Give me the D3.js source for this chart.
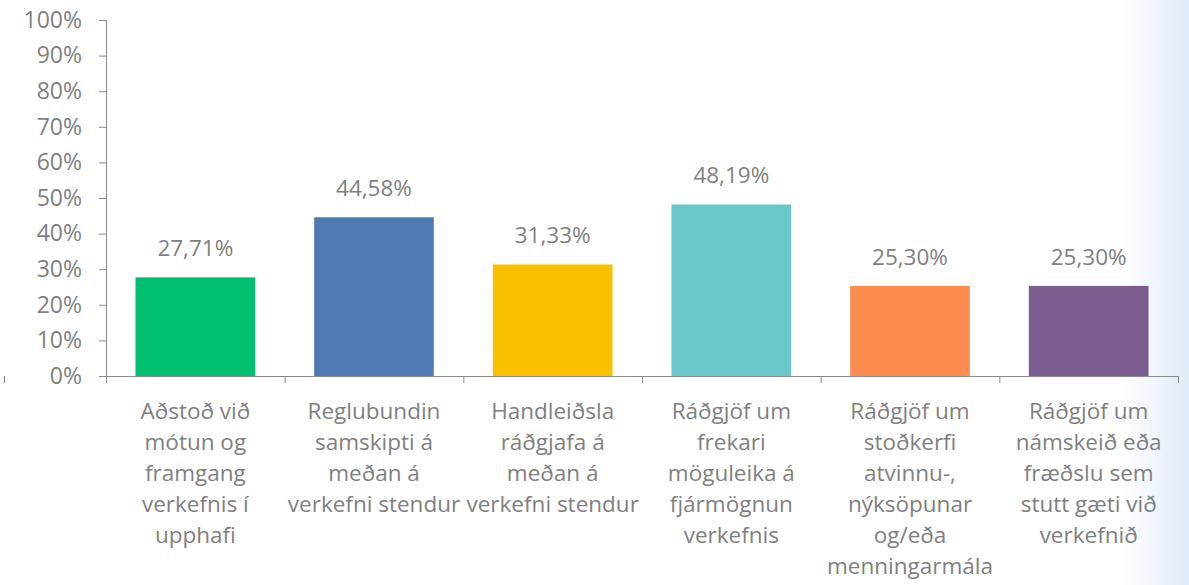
<!DOCTYPE html>
<html>
<head>
<meta charset="utf-8">
<script src="https://cdn.jsdelivr.net/npm/d3@7"></script>
<style>
  html, body { margin: 0; padding: 0; background: #fff; }
  svg { display: block; font-family: "Open Sans", sans-serif; }
</style>
</head>
<body>
<div id="chart"></div>
<script>
const categories = [
    ["Aðstoð við", "mótun og", "framgang", "verkefnis í", "upphafi"],
    ["Reglubundin", "samskipti á", "meðan á", "verkefni stendur"],
    ["Handleiðsla", "ráðgjafa á", "meðan á", "verkefni stendur"],
    ["Ráðgjöf um", "frekari", "möguleika á", "fjármögnun", "verkefnis"],
    ["Ráðgjöf um", "stoðkerfi", "atvinnu-,", "nýksöpunar", "og/eða", "menningarmála"],
    ["Ráðgjöf um", "námskeið eða", "fræðslu sem", "stutt gæti við", "verkefnið"]
];
const values = [27.71, 44.58, 31.33, 48.19, 25.30, 25.30];
const barColors = ["#00bf6f", "#4f7ab4", "#f9c000", "#6ac8cb", "#ff8c4f", "#7b5c8e"];
const yTicks = [0, 10, 20, 30, 40, 50, 60, 70, 80, 90, 100];

const width = 1189;
const height = 585;
const margin = { top: 20, right: 11, bottom: 209, left: 106 };
const textColor = "#7f7f7f";
const axisColor = "#898989";

const svg = d3.select("#chart")
    .append("svg")
    .attr("width", width)
    .attr("height", height);

// light blue fade on the right edge
const grad = svg.append("defs").append("linearGradient")
    .attr("id", "fade")
    .attr("x1", "0").attr("x2", "1").attr("y1", "0").attr("y2", "0");
grad.append("stop").attr("offset", "0").attr("stop-color", "#ffffff");
grad.append("stop").attr("offset", "1").attr("stop-color", "#dfebf8");
svg.append("rect")
    .attr("x", 1122).attr("y", 0)
    .attr("width", width - 1122).attr("height", height)
    .attr("fill", "url(#fade)");

const idx = categories.map((c, i) => i);

const x = d3.scaleBand()
    .domain(idx)
    .range([margin.left, width - margin.right])
    .paddingInner(0.33)
    .paddingOuter(0.165);

const xb = d3.scaleLinear()
    .domain([0, categories.length])
    .range([margin.left, width - margin.right]);

const y = d3.scaleLinear()
    .domain([0, 100])
    .range([height - margin.bottom, margin.top]);

// y axis
const yAxis = svg.append("g")
    .attr("transform", `translate(${margin.left},0)`)
    .call(d3.axisLeft(y)
        .tickValues(yTicks)
        .tickSize(7)
        .tickPadding(17)
        .tickSizeOuter(0)
        .tickFormat(d => d + "%"));
yAxis.select(".domain").attr("stroke", axisColor);
yAxis.selectAll(".tick line").attr("stroke", axisColor);
yAxis.selectAll(".tick text")
    .attr("fill", textColor)
    .attr("font-size", "23px")
    .attr("font-family", "'Open Sans', sans-serif");

// x axis with ticks between categories
const xAxis = svg.append("g")
    .attr("transform", `translate(0,${y(0)})`)
    .call(d3.axisBottom(xb)
        .tickValues(d3.range(0, categories.length + 1))
        .tickSize(7)
        .tickSizeOuter(0)
        .tickFormat(""));
xAxis.select(".domain").attr("stroke", axisColor);
xAxis.selectAll(".tick line").attr("stroke", axisColor);

// stray tick at far left
svg.append("line")
    .attr("x1", 4.5).attr("x2", 4.5)
    .attr("y1", y(0)).attr("y2", y(0) + 7)
    .attr("stroke", axisColor);

svg.selectAll(".bar")
    .data(values)
    .enter()
    .append("rect")
    .attr("class", "bar")
    .attr("x", (d, i) => x(i))
    .attr("y", d => y(d))
    .attr("width", x.bandwidth())
    .attr("height", d => y(0) - y(d))
    .attr("fill", (d, i) => barColors[i]);

svg.selectAll(".vlabel")
    .data(values)
    .enter()
    .append("text")
    .attr("class", "vlabel")
    .attr("x", (d, i) => x(i) + x.bandwidth() / 2)
    .attr("y", d => y(d) - 21)
    .attr("text-anchor", "middle")
    .attr("font-size", "22.5px")
    .attr("fill", textColor)
    .text(d => d.toFixed(2).replace(".", ",") + "%");

const catLabels = svg.selectAll(".clabel")
    .data(categories)
    .enter()
    .append("text")
    .attr("class", "clabel")
    .attr("text-anchor", "middle")
    .attr("font-size", "22.5px")
    .attr("fill", textColor);

catLabels.selectAll("tspan")
    .data((d, i) => d.map(line => ({ line, i })))
    .enter()
    .append("tspan")
    .attr("x", d => x(d.i) + x.bandwidth() / 2)
    .attr("y", (d, j) => y(0) + 43 + j * 31)
    .text(d => d.line);
</script>
</body>
</html>
